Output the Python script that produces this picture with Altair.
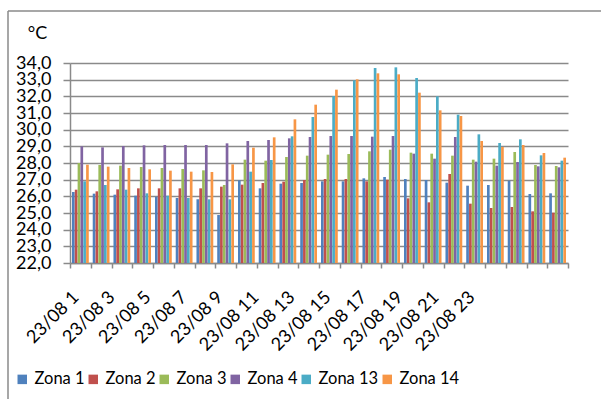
import altair as alt
import pandas as pd

# Hourly readings for 23/08, one value per zone and hour
horas = [f"23/08  {h}" for h in range(1, 25)]
rotulos = horas[::2]  # every other hour gets a label
zonas = ["Zona 1", "Zona 2", "Zona 3", "Zona 4", "Zona 13", "Zona 14"]
cores = ["#4F81BD", "#C0504D", "#9BBB59", "#8064A2", "#4BACC6", "#F79646"]

zona_1 = [26.26, 26.16, 26.10, 26.04, 25.98, 25.90, 25.82, 24.88, 26.96, 26.48, 26.76, 26.80,
          26.90, 26.90, 27.08, 27.16, 27.04, 26.98, 26.82, 26.64, 26.68, 26.94, 26.14, 26.18]
zona_2 = [26.40, 26.30, 26.42, 26.48, 26.48, 26.48, 26.48, 26.58, 26.70, 26.80, 26.88, 26.98,
          27.04, 27.04, 26.90, 27.00, 25.88, 25.64, 27.34, 25.56, 25.30, 25.36, 25.10, 25.02]
zona_3 = [28.00, 27.88, 27.84, 27.76, 27.70, 27.64, 27.56, 26.68, 28.20, 28.14, 28.36, 28.44,
          28.50, 28.54, 28.70, 28.80, 28.62, 28.56, 28.44, 28.20, 28.26, 28.66, 27.88, 27.82]
zona_4 = [29.00, 28.94, 29.02, 29.06, 29.08, 29.08, 29.08, 29.18, 29.32, 29.38, 29.48, 29.56,
          29.62, 29.62, 29.58, 29.62, 28.56, 28.26, 29.56, 28.08, 27.84, 28.06, 27.80, 27.74]
zona_13 = [26.90, 26.68, 26.40, 26.18, 26.04, 25.90, 25.82, 25.82, 27.48, 28.18, 29.60, 30.76,
           32.02, 32.96, 33.70, 33.74, 33.10, 32.00, 30.90, 29.72, 29.20, 29.42, 28.46, 28.14]
zona_14 = [27.90, 27.78, 27.70, 27.62, 27.54, 27.48, 27.46, 27.92, 28.92, 29.54, 30.62, 31.50,
           32.40, 33.02, 33.38, 33.32, 32.22, 31.16, 30.82, 29.32, 28.96, 29.08, 28.60, 28.32]

series = [zona_1, zona_2, zona_3, zona_4, zona_13, zona_14]
df = pd.DataFrame(
    [{"hora": h, "zona": z, "temp": v, "base": 22}
     for z, vals in zip(zonas, series)
     for h, v in zip(horas, vals)]
)

FONT = "Lato"
GRID = "#8a8a8a"
lista_rotulos = "[" + ",".join(f"'{r}'" for r in rotulos) + "]"
lista_horas = "[" + ",".join(f"'{h}'" for h in horas) + "]"

# rotated labels sit a little tighter than the category bands
label_shift = f"-11 - 2.75 * indexof({lista_horas}, datum.value)"

bars = alt.Chart(df).mark_bar().encode(
    x=alt.X(
        "hora:N",
        sort=horas,
        scale=alt.Scale(paddingInner=0, paddingOuter=0),
        axis=alt.Axis(
            title=None,
            labelAngle=315,
            labelAlign="right",
            labelBaseline="top",
            labelPadding=20,
            labelOffset=alt.ExprRef(expr=label_shift),
            labelFont=FONT,
            labelFontSize=18,
            labelColor="#000000",
            labelExpr=f"indexof({lista_rotulos}, datum.value) >= 0 ? datum.value : ''",
            labelOverlap=False,
            tickBand="extent",
            tickSize=5,
            tickColor=GRID,
            tickWidth=1.5,
            domainColor=GRID,
            domainWidth=1.5,
            grid=False,
        ),
    ),
    xOffset=alt.XOffset(
        "zona:N", sort=zonas,
        scale=alt.Scale(paddingOuter=0.7, paddingInner=0.05),
    ),
    y=alt.Y(
        "temp:Q",
        scale=alt.Scale(domain=[22, 34], zero=False, nice=False),
        axis=alt.Axis(
            title="°C",
            titleAngle=0,
            titleAlign="center",
            titleBaseline="middle",
            titleX=-33,
            titleY=-30,
            titleFont=FONT,
            titleFontSize=18,
            titleFontWeight="normal",
            titleColor="#000000",
            values=list(range(22, 35)),
            format=".1f",
            labelExpr="replace(datum.label, '.', ',')",
            labelFont=FONT,
            labelFontSize=18,
            labelColor="#000000",
            labelPadding=12,
            labelOverlap=False,
            tickSize=7,
            tickColor=GRID,
            tickWidth=1.5,
            domainColor=GRID,
            domainWidth=1.5,
            grid=True,
            gridColor=GRID,
            gridWidth=1.5,
        ),
    ),
    y2="base:Q",
    color=alt.Color(
        "zona:N",
        sort=zonas,
        scale=alt.Scale(domain=zonas, range=cores),
        legend=alt.Legend(
            title=None,
            orient="none",
            direction="horizontal",
            legendX=-56,
            legendY=308,
            symbolType="square",
            symbolSize=90,
            symbolStrokeWidth=0,
            symbolOpacity=1,
            labelFont=FONT,
            labelFontSize=16.5,
            labelColor="#000000",
            labelOffset=4,
            columnPadding=0,
        ),
    ),
)

# Thin frame along the top and left edge of the chart area
frame_data = alt.Data(values=[{"k": 1}])
frame_left = alt.Chart(frame_data).mark_rule(color=GRID, strokeWidth=1.5).encode(
    x=alt.value(-62), y=alt.value(-52), y2=alt.value(336)
)
frame_top = alt.Chart(frame_data).mark_rule(color=GRID, strokeWidth=1.5).encode(
    x=alt.value(-62), x2=alt.value(531), y=alt.value(-52)
)

chart = alt.layer(bars, frame_left, frame_top).properties(
    width=498,
    height=200,
    autosize=alt.AutoSizeParams(type="none"),
    padding={"left": 70, "top": 63, "right": 33, "bottom": 136},
    background="white",
).configure_view(stroke=None)

chart.save("out.html", embed_options={"renderer": "svg", "actions": False})
